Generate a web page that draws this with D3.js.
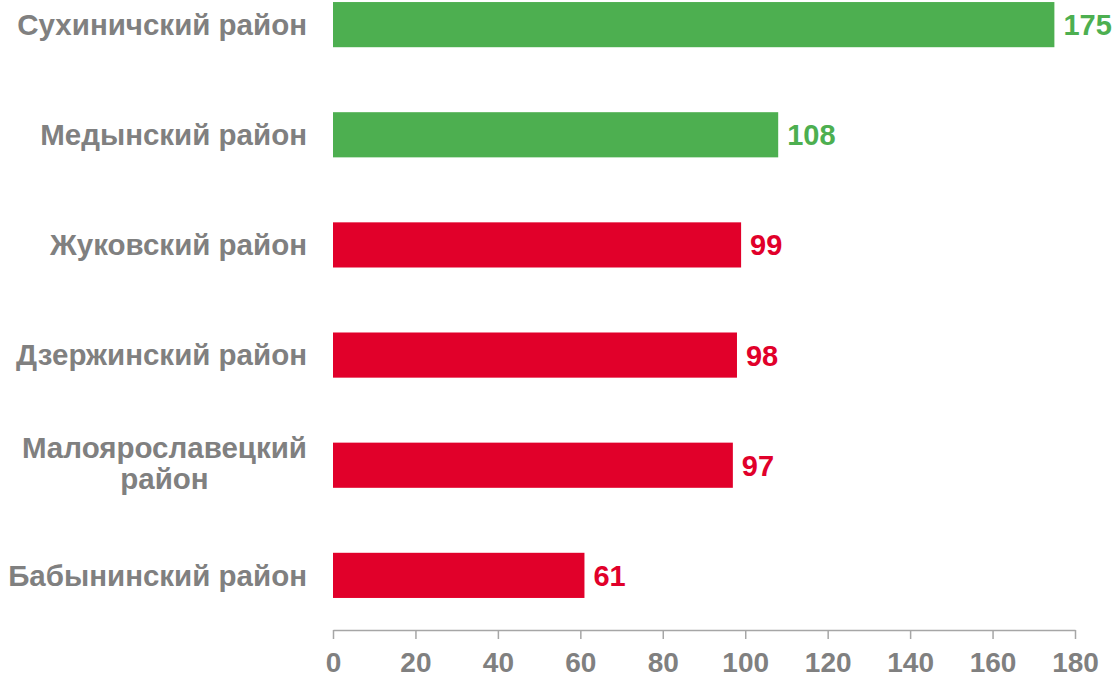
<!DOCTYPE html>
<html>
<head>
<meta charset="utf-8">
<script src="https://cdn.jsdelivr.net/npm/d3@7"></script>
<style>
  body { margin: 0; background: #fff; }
  text { font-family: "Liberation Sans", Arial, sans-serif; font-weight: bold; }
</style>
</head>
<body>
<script>
// Global variable
const w = 1117;
const h = 679;

// data
const districts = ["Сухиничский район", "Медынский район", "Жуковский район",
                   "Дзержинский район", "Малоярославецкий район", "Бабынинский район"];
const values = [175, 108, 99, 98, 97, 61];
const aboveNorm = [true, true, false, false, false, false];
const xTicks = [0, 20, 40, 60, 80, 100, 120, 140, 160, 180];

const green = "#4DAF50";
const red = "#E1002A";
const gray = "#808080";

let dataset = districts.map((d, i) => ({ name: d, value: values[i], good: aboveNorm[i] }));

//Create SVG element
let svg = d3.select("body")
            .append("svg")
                .attr("width", w)
                .attr("height", h);

let x = d3.scaleLinear()
        .domain([0, 180])
        .range([333, 1075]);

let y = d3.scaleBand()
        .domain(districts)
        .range([-31, 631])
        .paddingInner(0.59)
        .paddingOuter(0.3);

// bars
svg.selectAll("rect.bar")
    .data(dataset)
    .enter()
    .append("rect")
    .attr("class", "bar")
    .attr("x", x(0))
    .attr("y", (d) => y(d.name))
    .attr("width", (d) => x(d.value) - x(0))
    .attr("height", y.bandwidth())
    .attr("fill", (d) => d.good ? green : red);

// value labels
svg.selectAll("text.val")
    .data(dataset)
    .enter()
    .append("text")
    .attr("class", "val")
    .attr("x", (d) => x(d.value) + 9)
    .attr("y", (d) => y(d.name) + y.bandwidth() / 2)
    .attr("dy", "0.36em")
    .attr("font-size", 29)
    .attr("fill", (d) => d.good ? green : red)
    .text((d) => d.value);

// category labels (long one wraps on two lines)
let labels = svg.selectAll("text.cat")
    .data(dataset)
    .enter()
    .append("text")
    .attr("class", "cat")
    .attr("font-size", 29.5)
    .attr("fill", gray)
    .attr("transform", (d) => "translate(307," + (y(d.name) + y.bandwidth() / 2) + ")");

labels.each(function (d) {
    let t = d3.select(this);
    if (d.name.length > 18) {
        let parts = d.name.split(" ");
        t.attr("text-anchor", "middle");
        t.append("tspan").attr("x", 0).attr("dy", "-0.25em").text(parts[0]);
        let width = this.getComputedTextLength();
        t.attr("transform", "translate(" + (307 - width / 2) + "," + (y(d.name) + y.bandwidth() / 2) + ")");
        t.append("tspan").attr("x", 0).attr("dy", "1.05em").text(parts[1]);
    } else {
        t.attr("text-anchor", "end")
         .attr("dy", "0.35em")
         .text(d.name);
    }
});

// Add x_axis
let axis = svg.append("g")
    .attr("class", "x axis")
    .attr("transform", "translate(0,630)")
    .call(d3.axisBottom(x).tickValues(xTicks).tickSize(9).tickPadding(13).tickSizeOuter(0));

axis.select(".domain").attr("stroke", "#A6A6A6").attr("stroke-width", 1.5);
axis.selectAll(".tick line").attr("stroke", "#A6A6A6").attr("stroke-width", 1.5);
axis.selectAll(".tick text")
    .attr("fill", gray)
    .attr("font-size", 28)
    .attr("font-family", "Liberation Sans, Arial, sans-serif")
    .attr("font-weight", "bold");
</script>
</body>
</html>
